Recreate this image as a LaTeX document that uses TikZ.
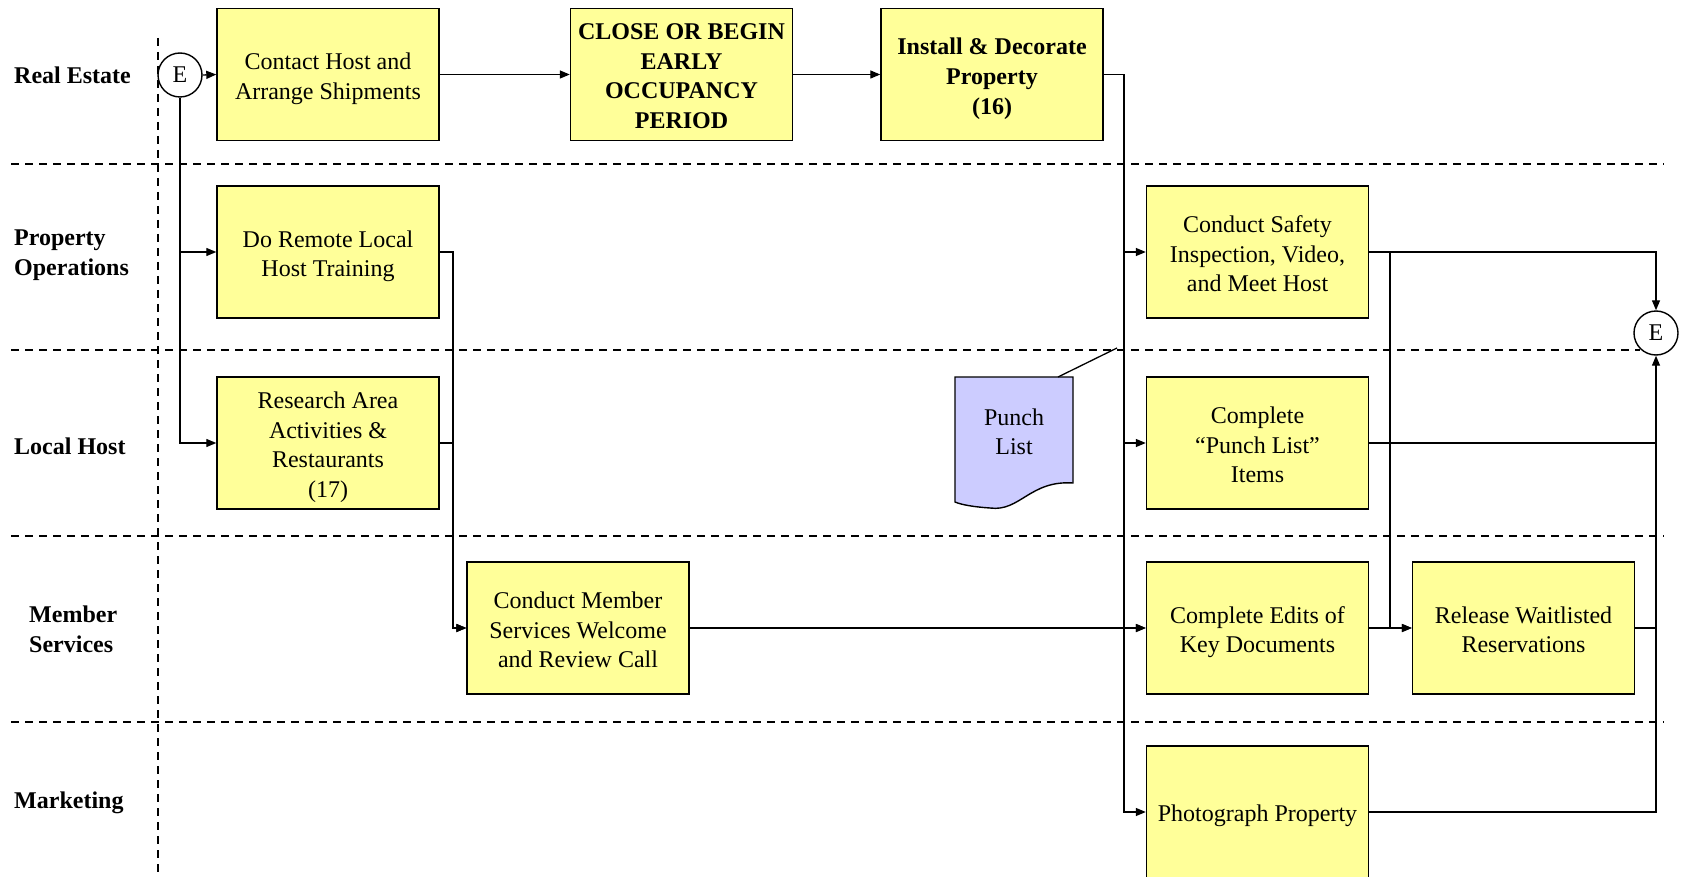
\documentclass[tikz,border=0pt]{standalone}
\usepackage{fontspec}
\setmainfont{Liberation Serif}
\usetikzlibrary{arrows.meta}
\definecolor{taskyellow}{HTML}{FFFF99}
\definecolor{docblue}{HTML}{CCCCFF}

\begin{document}
\begin{tikzpicture}[x=1pt,y=-1pt,
  evenlines/.style={execute at begin node={\rule{0pt}{24pt}},
    execute at end node={\rule[-5pt]{0pt}{5pt}}},
  tasktext/.style={align=center,inner sep=0pt,evenlines,yshift=-4.2pt,
    font=\fontsize{24}{29.6}\selectfont},
  boldtext/.style={tasktext,font=\fontsize{24}{29.6}\selectfont\bfseries},
  taskbox/.style={draw,line width=1.4pt,fill=taskyellow,minimum width=222pt,
    minimum height=132pt,inner sep=0pt},
  task/.style={taskbox,label={[tasktext]center:#1}},
  boldtask/.style={taskbox,label={[boldtext]center:#1}},
  lane/.style={anchor=west,align=left,inner sep=0pt,evenlines,
    font=\fontsize{24}{29.6}\selectfont\bfseries},
  event/.style={draw,circle,line width=1.4pt,fill=white,minimum size=44pt,
    inner sep=0pt,font=\fontsize{24}{29}\selectfont},
  flow/.style={line width=1.3pt,-{Triangle[length=10pt,width=8pt]}},
  link/.style={line width=1.3pt},
  divider/.style={line width=1.3pt,dash pattern=on 8pt off 6pt}
]
\useasboundingbox (0,0) rectangle (1681,877);

% swimlane separators
\draw[divider] (158,38) -- (158,877);
\draw[divider] (11,164) -- (1664,164);
\draw[divider] (11,350) -- (1640,350);
\draw[divider] (11,536) -- (1664,536);
\draw[divider] (11,722) -- (1664,722);

% lane titles
\node[lane] (laneRE) at (14,74) {Real Estate};
\node[lane] (lanePO) at (14,255) {Property\\Operations};
\node[lane] (laneLH) at (14,445) {Local Host};
\node[lane] (laneMS) at (29,631.5) {Member\\Services};
\node[lane] (laneMK) at (14,799) {Marketing};

% events
\node[event] (eStart) at (180,75) {E};
\node[event] (eEnd) at (1656,333) {E};

% tasks
\node[task={Contact Host and\\Arrange Shipments}] (contact) at (328,74.5) {};
\node[boldtask={CLOSE OR BEGIN\\EARLY\\OCCUPANCY\\PERIOD}] (close) at (681.5,74.5) {};
\node[boldtask={Install \& Decorate\\Property\\(16)}] (install) at (992,74.5) {};
\node[task={Do Remote Local\\Host Training}] (remote) at (328,252) {};
\node[task={Research Area\\Activities \&\\Restaurants\\(17)}] (research) at (328,443) {};
\node[task={Conduct Member\\Services Welcome\\and Review Call}] (member) at (578,628) {};
\node[task={Conduct Safety\\Inspection, Video,\\and Meet Host}] (safety) at (1257.5,252) {};
\node[task={Complete\\“Punch List”\\Items}] (punchitem) at (1257.5,443) {};
\node[task={Complete Edits of\\Key Documents}] (edits) at (1257.5,628) {};
\node[task={Release Waitlisted\\Reservations}] (release) at (1523.5,628) {};
\node[taskbox,label={[tasktext,yshift=4pt]center:Photograph Property}]
  (photo) at (1257.5,812) {};

% punch list document
\draw[line width=1.4pt,fill=docblue]
  (955,377) -- (1073,377) -- (1073,483)
  .. controls (1030,480) and (1020,512) .. (990,508)
  .. controls (975,507) and (962,505) .. (955,502) -- cycle;
\node[align=center,inner sep=0pt,font=\fontsize{24}{29}\selectfont]
  (punch) at (1014,432) {Punch\\List};
\coordinate (punchTop) at (1058,377);
\coordinate (punchNote) at (1117,348);
\draw[link] (punchTop) -- (punchNote);

% trunk lines
\coordinate (trunkB) at (453,0);
\coordinate (trunkA) at (1124,0);
\coordinate (trunkC) at (1390,0);

% connectors
\draw[flow] (eStart.east) -- (contact.west);
\draw[flow] (eStart.south) |- (remote.west);
\draw[flow] (eStart.south) |- (research.west);
\draw[flow] (contact.east) -- (close.west);
\draw[flow] (close.east) -- (install.west);

\draw[flow] (install.east) -- (install.east -| trunkA) |- (safety.west);
\draw[flow] (install.east) -- (install.east -| trunkA) |- (punchitem.west);
\draw[flow] (install.east) -- (install.east -| trunkA) |- (edits.west);
\draw[flow] (install.east) -- (install.east -| trunkA) |- (photo.west);

\draw[flow] (remote.east) -- (remote.east -| trunkB) |- (member.west);
\draw[flow] (research.east) -- (research.east -| trunkB) |- (member.west);

\draw[flow] (member.east) -- (edits.west);
\draw[flow] (edits.east) -- (release.west);
\draw[flow] (safety.east) -- (safety.east -| trunkC) |- (release.west);

\draw[flow] (safety.east) -| (eEnd.north);
\draw[flow] (photo.east) -| (eEnd.south);
\draw[link] (punchitem.east) -- (punchitem.east -| eEnd.south);
\draw[link] (release.east) -- (release.east -| eEnd.south);
\end{tikzpicture}
\end{document}
